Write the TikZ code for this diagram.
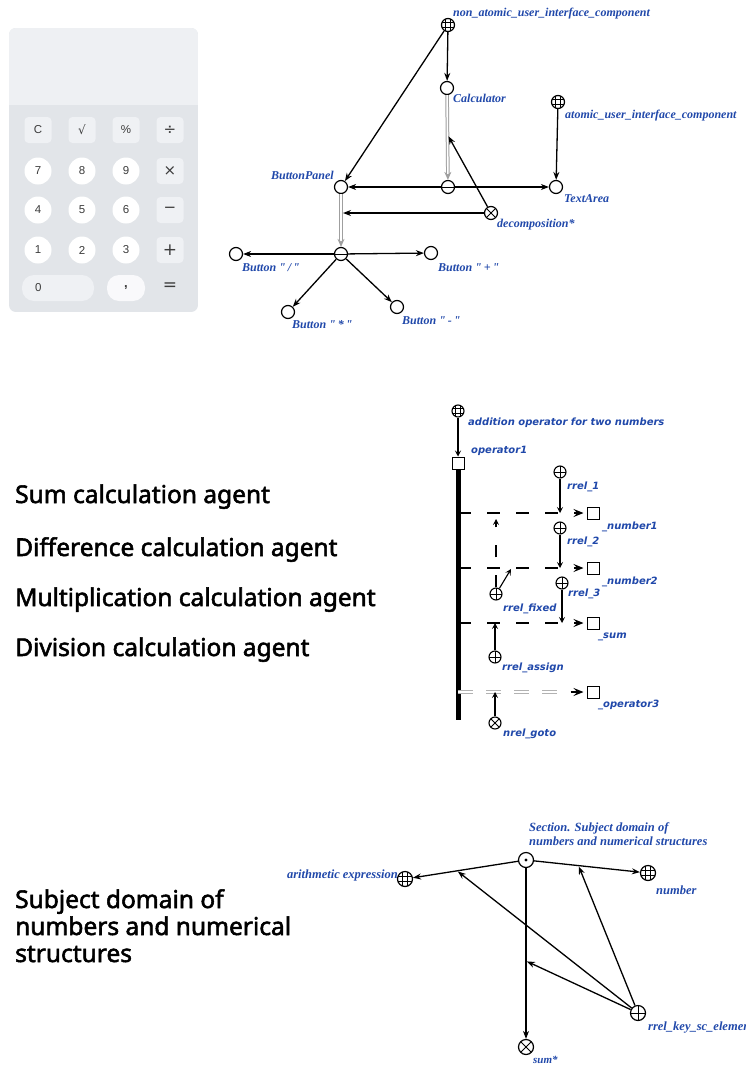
\documentclass[tikz,border=0pt]{standalone}
\usepackage{fontspec}
\setmainfont{Liberation Serif}
\newfontfamily\lblfont{Liberation Serif}
\newfontfamily\agentfont[FakeBold=2.2]{Noto Sans}
\newfontfamily\keyfont{Liberation Sans}
\newfontfamily\symfont{DejaVu Sans}
\newfontfamily\scgfont{DejaVu Sans}
\usetikzlibrary{arrows.meta,calc}

\definecolor{scblue}{RGB}{32,72,170}
\definecolor{display}{RGB}{238,240,243}
\definecolor{panel}{RGB}{226,229,233}
\definecolor{keylight}{RGB}{239,241,244}
\definecolor{keytext}{RGB}{60,60,60}

\tikzset{
  % sc-graph nodes
  scnode/.style={circle, draw=black, line width=1.2pt, minimum size=13pt, inner sep=0pt, fill=white},
  msize/.style={minimum size=12pt, line width=1.1pt},
  bsize/.style={minimum size=15pt},
  classnode/.style={scnode, path picture={
      \foreach \d in {-2.2,2.2}{
        \draw[black, line width=0.7pt] ([xshift=\d pt]path picture bounding box.north) -- ([xshift=\d pt]path picture bounding box.south);
        \draw[black, line width=0.7pt] ([yshift=\d pt]path picture bounding box.west) -- ([yshift=\d pt]path picture bounding box.east);
      }}},
  rolenode/.style={scnode, path picture={
      \draw[black, line width=0.9pt] (path picture bounding box.north) -- (path picture bounding box.south);
      \draw[black, line width=0.9pt] (path picture bounding box.west) -- (path picture bounding box.east);}},
  nrelnode/.style={scnode, path picture={
      \draw[black, line width=0.9pt] (path picture bounding box.north west) -- (path picture bounding box.south east);
      \draw[black, line width=0.9pt] (path picture bounding box.south west) -- (path picture bounding box.north east);}},
  tuplenode/.style={scnode, path picture={
      \draw[black, line width=0.9pt] (path picture bounding box.west) -- (path picture bounding box.east);}},
  structnode/.style={scnode, path picture={
      \fill[black] (path picture bounding box.center) circle (1.7pt);}},
  sqnode/.style={rectangle, draw=black, line width=1pt, minimum size=12pt, inner sep=0pt, fill=white},
  % labels
  tlbl/.style={font=\lblfont\bfseries\itshape\fontsize{12}{14}\selectfont, text=scblue, inner sep=0pt, anchor=west},
  blbl/.style={font=\lblfont\bfseries\itshape\fontsize{12.5}{14}\selectfont, text=scblue, inner sep=0pt, anchor=west},
  mlbl/.style={font=\scgfont\bfseries\itshape\fontsize{10}{12}\selectfont, text=scblue, inner sep=0pt, anchor=west},
  agent/.style={font=\agentfont\fontsize{24.5}{27}\selectfont, inner sep=0pt, anchor=base west, align=left},
  % connectors
  scarc/.style={line width=1.3pt, -{Stealth[length=8pt,width=6pt]}},
  commonarc/.style={draw=gray!75, line width=1pt, double=white, double distance=1.6pt, -{Stealth[length=8pt,width=7pt]}},
  smarc/.style={line width=1.1pt, -{Stealth[length=6pt,width=6pt,inset=2.5pt]}},
  dasharc/.style={line width=1.3pt, dash pattern=on 13pt off 16pt, shorten >=3pt, -{Stealth[length=10pt,width=8pt,inset=4pt]}},
  dblarc/.style={draw=gray!60, line width=1.1pt, double=white, double distance=1.5pt, dash pattern=on 15pt off 13pt},
  tiparc/.style={line width=1.3pt, shorten >=3pt, -{Stealth[length=10pt,width=8pt,inset=4pt]}},
  % calculator keys
  keysq/.style={fill=keylight, rounded corners=4pt, minimum width=27pt, minimum height=26pt, inner sep=0pt, text=keytext, font=\keyfont\fontsize{11.5}{13}\selectfont},
  keyround/.style={circle, fill=white, minimum size=27pt, inner sep=0pt, text=keytext, font=\keyfont\fontsize{11.5}{13}\selectfont},
  keysym/.style={inner sep=0pt, text=keytext, font=\symfont\fontsize{16}{18}\selectfont},
}

\begin{document}
\begin{tikzpicture}[x=1pt,y=-1pt]
\useasboundingbox (0,0) rectangle (745,1068);
\fill[white] (0,0) rectangle (745,1068);

% ---------------- calculator ----------------
\begin{scope}
  \clip[rounded corners=7pt] (9,28) rectangle (198,312);
  \fill[panel] (9,28) rectangle (198,312);
  \fill[display] (9,28) rectangle (198,105);
\end{scope}
\node[keysq] (kc) at (38,130) {C};
\node[keysq] (ksq) at (82,130) {\symfont\fontsize{12}{14}\selectfont √};
\node[keysq] (kpc) at (126,130) {\%};
\node[keysq, font=\symfont\fontsize{15}{17}\selectfont] (kdiv) at (170,130) {÷};
\node[keyround] (k7) at (38,171) {7};
\node[keyround] (k8) at (82,171) {8};
\node[keyround] (k9) at (126,171) {9};
\node[keysq, font=\symfont\fontsize{15}{17}\selectfont] (kmul) at (170,171) {×};
\node[keyround] (k4) at (38,210) {4};
\node[keyround] (k5) at (82,210) {5};
\node[keyround] (k6) at (126,210) {6};
\node[keysq, font=\symfont\fontsize{15}{17}\selectfont] (kmin) at (170,210) {−};
\node[keyround] (k1) at (38,250) {1};
\node[keyround] (k2) at (82,250) {2};
\node[keyround] (k3) at (126,250) {3};
\node[keysq, font=\symfont\fontsize{17}{19}\selectfont] (kplus) at (170,250) {+};
\node[keysq, rounded corners=12pt, minimum width=72pt, text width=46pt, align=left] (k0) at (58,288) {0};
\node[keysq, rounded corners=12pt, fill=white!60!keylight, minimum width=38pt, font=\keyfont\bfseries\fontsize{13}{15}\selectfont] (kcomma) at (126,288) {,};
\node[keysym, font=\symfont\fontsize{17}{19}\selectfont] (keq) at (170,287) {=};

% ---------------- interface decomposition ----------------
\node[classnode] (nauic) at (448,25) {};
\node[tlbl] (lnauic) at (453,14) {non\_atomic\_user\_interface\_component};
\node[scnode] (calc) at (447,88) {};
\node[tlbl] (lcalc) at (453,98) {Calculator};
\node[classnode] (auic) at (558,102) {};
\node[tlbl] (lauic) at (565,116) {atomic\_user\_interface\_component};
\node[scnode] (bpanel) at (341,187) {};
\node[tlbl, anchor=east] (lbpanel) at (334,175) {ButtonPanel};
\node[tuplenode] (tup1) at (448,187) {};
\node[scnode] (tarea) at (556,187) {};
\node[tlbl] (ltarea) at (564,199) {TextArea};
\node[nrelnode] (decomp) at (491,213) {};
\node[tlbl] (ldecomp) at (497,225) {decomposition*};
\node[tuplenode] (tup2) at (341,254) {};
\node[scnode] (bdiv) at (236,254) {};
\node[tlbl] (lbdiv) at (242,268) {Button "\,/\,"};
\node[scnode] (bplus) at (431,253) {};
\node[tlbl] (lbplus) at (438,268) {Button "\,+\,"};
\node[scnode] (bmul) at (288,312) {};
\node[tlbl] (lbmul) at (292,325) {Button "\,*\,"};
\node[scnode] (bminus) at (397,307) {};
\node[tlbl] (lbminus) at (402,321) {Button "\,-\,"};

\draw[scarc] (nauic) -- (calc);
\draw[scarc] (nauic) -- (bpanel);
\draw[scarc] (auic) -- (tarea);
\draw[commonarc] (calc) -- (tup1);
\draw[scarc] (tup1) -- (bpanel);
\draw[scarc] (tup1) -- (tarea);
\coordinate (dm1) at ($(calc)!0.47!(tup1)$);
\draw[scarc, shorten >=2pt] (decomp) -- (dm1);
\draw[commonarc] (bpanel) -- (tup2);
\coordinate (dm2) at (bpanel |- decomp);
\draw[scarc, shorten >=2pt] (decomp) -- (dm2);
\draw[scarc] (tup2) -- (bdiv);
\draw[scarc] (tup2) -- (bplus);
\draw[scarc] (tup2) -- (bmul);
\draw[scarc] (tup2) -- (bminus);

% ---------------- agent list ----------------
\node[agent] (ag1) at (15,503) {Sum calculation agent};
\node[agent] (ag2) at (15,556) {Difference calculation agent};
\node[agent] (ag3) at (15,606) {Multiplication calculation agent};
\node[agent] (ag4) at (15,656) {Division calculation agent};

% ---------------- addition program ----------------
\node[classnode, msize] (addop) at (458,411) {};
\node[mlbl] (laddop) at (468,423) {addition operator for two numbers};
\node[sqnode] (op1) at (458,463) {};
\node[mlbl] (lop1) at (471,451) {operator1};
\draw[smarc] (addop) -- (op1);
\coordinate (barend) at (458,720);
\draw[line width=5pt] (op1.south) -- (barend);

\coordinate (b1) at (458,513);
\coordinate (b2) at (458,568);
\coordinate (b3) at (458,623);
\coordinate (b4) at (458,692);
\node[sqnode] (n1) at (593,513) {};
\node[sqnode] (n2) at (593,568) {};
\node[sqnode] (nsum) at (593,623) {};
\node[sqnode] (op3) at (593,692) {};
\node[mlbl] (ln1) at (602,527) {\_number1};
\node[mlbl] (ln2) at (602,582) {\_number2};
\node[mlbl] (lnsum) at (598,637) {\_sum};
\node[mlbl] (lop3) at (598,705) {\_operator3};

\draw[dasharc] (b1) -- (n1);
\draw[dasharc] (b2) -- (n2);
\draw[dasharc] (b3) -- (nsum);
\draw[dblarc, shorten >=17pt] (b4) -- (op3);
\coordinate (op3in) at ($(op3.west)+(-16,0)$);
\draw[tiparc] (op3in) -- (op3);

\node[rolenode, msize] (r1) at (560,472) {};
\node[mlbl] (lr1) at (567,487) {rrel\_1};
\node[rolenode, msize] (r2) at (560,528) {};
\node[mlbl] (lr2) at (567,542) {rrel\_2};
\node[rolenode, msize] (r3) at (562,583) {};
\node[mlbl] (lr3) at (568,594) {rrel\_3};
\coordinate (r1t) at (r1 |- b1);
\coordinate (r2t) at (r2 |- b2);
\coordinate (r3t) at (r3 |- b3);
\draw[smarc] (r1) -- (r1t);
\draw[smarc] (r2) -- (r2t);
\draw[smarc] (r3) -- (r3t);

\node[rolenode, msize] (rfix) at (496,594) {};
\node[mlbl] (lrfix) at (503,609) {rrel\_fixed};
\coordinate (fixtop) at (496,519);
\draw[line width=1.1pt, dash pattern=on 12pt off 18pt, -{Stealth[length=6pt,width=6pt,inset=2.5pt]}] (rfix) -- (fixtop);
\coordinate (fixdiag) at (511,569);
\draw[smarc] (rfix) -- (fixdiag);

\node[rolenode, msize] (rasg) at (495,657) {};
\node[mlbl] (lrasg) at (502,668) {rrel\_assign};
\coordinate (asgtop) at (rasg |- b3);
\draw[smarc] (rasg) -- (asgtop);

\node[nrelnode, msize] (ngoto) at (495,723) {};
\node[mlbl] (lngoto) at (503,734) {nrel\_goto};
\coordinate (gototop) at (ngoto |- b4);
\draw[smarc] (ngoto) -- (gototop);

% ---------------- subject domain ----------------
\node[agent] (sdtext) at (15,962) {Subject domain of\\numbers and numerical\\structures};

\node[structnode, bsize] (sect) at (526,860) {};
\node[blbl, align=left, anchor=south west] (lsect) at (529,846) {Section. Subject domain of\\numbers and numerical structures};
\node[classnode, bsize] (arith) at (405,879) {};
\node[blbl, anchor=east] (larith) at (398,875) {arithmetic expression};
\node[classnode, bsize] (numb) at (648,873) {};
\node[blbl] (lnumb) at (656,890) {number};
\node[rolenode, bsize] (rkey) at (638,1013) {};
\node[blbl] (lrkey) at (648,1027) {rrel\_key\_sc\_element};
\node[nrelnode, bsize] (sumst) at (526,1047) {};
\node[blbl, font=\lblfont\bfseries\itshape\fontsize{11}{13}\selectfont] (lsumst) at (533,1060) {sum*};

\draw[scarc] (sect) -- (arith);
\draw[scarc] (sect) -- (numb);
\draw[scarc] (sect) -- (sumst);
\coordinate (k1) at ($(sect)!0.57!(arith)$);
\coordinate (k2) at ($(sect)!0.43!(numb)$);
\coordinate (k3) at ($(sect)!0.54!(sumst)$);
\draw[scarc, shorten >=1pt] (rkey) -- (k1);
\draw[scarc, shorten >=1pt] (rkey) -- (k2);
\draw[scarc, shorten >=1pt] (rkey) -- (k3);
\end{tikzpicture}
\end{document}
